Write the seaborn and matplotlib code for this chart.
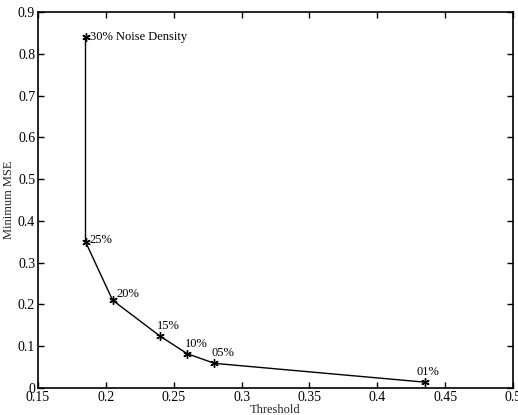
import matplotlib
matplotlib.use("Agg")
import matplotlib.pyplot as plt
import seaborn as sns
import pandas as pd

threshold = [0.185, 0.185, 0.205, 0.240, 0.260, 0.280, 0.435]
min_mse = [0.840, 0.350, 0.210, 0.124, 0.082, 0.059, 0.014]
labels = ["30% Noise Density", "25%", "20%", "15%", "10%", "05%", "01%"]

sns.set_theme(style="white")
plt.rcParams['font.family'] = ['Liberation Serif', 'DejaVu Serif']

df = pd.DataFrame({"Threshold": threshold, "Minimum MSE": min_mse})

fig = plt.figure(figsize=(5.18, 4.15), dpi=100)
ax = fig.add_axes([38/518, 1 - 388/415, 475/518, 376/415])
sns.lineplot(data=df, x="Threshold", y="Minimum MSE", sort=False, estimator=None,
             ax=ax, color="black", linewidth=1.0, marker=(6, 2, 0), markersize=6,
             markeredgecolor="black", markeredgewidth=1.0)

offsets = [(3.5, 0, 'left', 'center'), (3, 1, 'left', 'center'), (3, 0, 'left', 'bottom'),
           (-2, 3, 'left', 'bottom'), (-2, 3, 'left', 'bottom'), (-2, 3, 'left', 'bottom'),
           (-6, 3, 'left', 'bottom')]
for xv, yv, lab, (dx, dy, ha, va) in zip(threshold, min_mse, labels, offsets):
    ax.annotate(lab, (xv, yv), xytext=(dx, dy), textcoords="offset points",
                ha=ha, va=va, fontsize=9, color="black")

ax.set_xlim(0.15, 0.5)
ax.set_ylim(0, 0.9)
ax.set_xticks([0.15, 0.2, 0.25, 0.3, 0.35, 0.4, 0.45, 0.5])
ax.set_xticklabels(["0.15", "0.2", "0.25", "0.3", "0.35", "0.4", "0.45", "0.5"])
ax.set_yticks([0, 0.1, 0.2, 0.3, 0.4, 0.5, 0.6, 0.7, 0.8, 0.9])
ax.set_yticklabels(["0", "0.1", "0.2", "0.3", "0.4", "0.5", "0.6", "0.7", "0.8", "0.9"])
ax.tick_params(direction="in", length=4, width=1, colors="black", labelsize=10,
               top=True, right=True, bottom=True, left=True, pad=2)
for s in ax.spines.values():
    s.set_color("black")
    s.set_linewidth(1.2)
ax.set_xlabel("Threshold", fontsize=9, labelpad=0)
ax.set_ylabel("Minimum MSE", fontsize=9, labelpad=2)
ax.grid(False)

fig.savefig("out.png", dpi=100)
